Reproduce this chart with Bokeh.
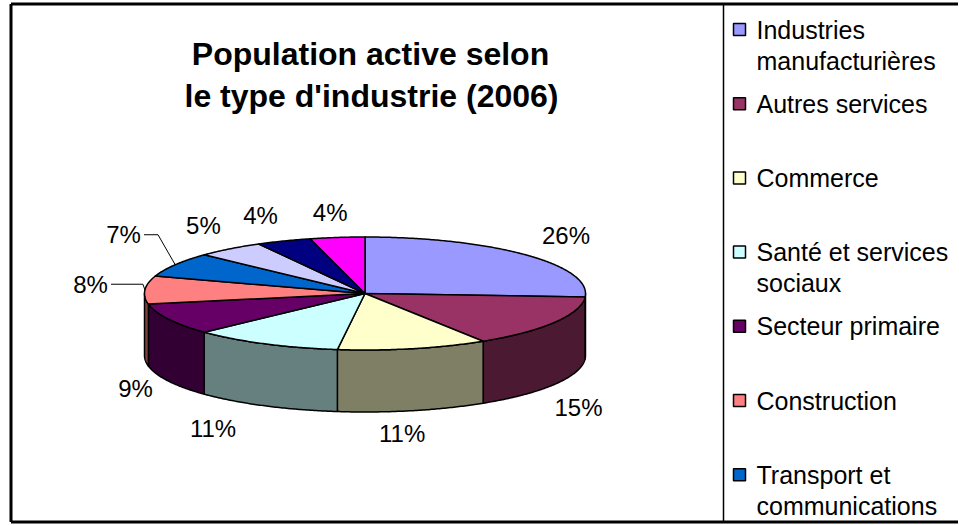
import numpy as np
from bokeh.plotting import figure
from bokeh.models import Range1d
from bokeh.embed import file_html
from bokeh.resources import INLINE
from bokeh.core.properties import value

# ---------------- data ----------------
categories = [
    "Industries manufacturières",
    "Autres services",
    "Commerce",
    "Santé et services sociaux",
    "Secteur primaire",
    "Construction",
    "Transport et communications",
    "Catégorie 8",   # not visible in the (cut-off) legend
    "Catégorie 9",   # not visible in the (cut-off) legend
    "Catégorie 10",  # not visible in the (cut-off) legend
]
percentages = [26, 15, 11, 11, 9, 8, 7, 5, 4, 4]
title_lines = ["Population active selon", "le type d'industrie (2006)"]
legend_lines = [
    ["Industries", "manufacturières"],
    ["Autres services"],
    ["Commerce"],
    ["Santé et services", "sociaux"],
    ["Secteur primaire"],
    ["Construction"],
    ["Transport et", "communications"],
]

# ---------------- styles / layout ----------------
top_colors = ["#9999FF", "#993366", "#FFFFCC", "#CCFFFF", "#660066",
              "#FF8080", "#0066CC", "#CCCCFF", "#000080", "#FF00FF"]


def darken(hex_color, f=0.5):
    h = hex_color.lstrip("#")
    r, g, b_ = (int(h[i:i + 2], 16) for i in (0, 2, 4))
    return "#%02X%02X%02X" % (int(r * f), int(g * f), int(b_ * f))


side_colors = [darken(c) for c in top_colors]

FONT = value("Liberation Sans")
W, H = 958, 524

cx, cy = 364.5, 293.0      # pie centre (px)
a, b = 220.5, 56.5         # ellipse semi-axes
depth = 62.0               # thickness of the 3D pie
ka, kb = 262.0, 84.0       # label radial factors
label_nudge = [(10, 0), (-12, 9), (-20, -4), (-33, -2), (4, -5),
               (-13, -4), (-16, -16), (-1, -2), (-8, 0), (-2, 2)]
leader = [False, False, False, False, False, True, True, False, False, False]

p = figure(width=W, height=H, x_range=Range1d(0, W), y_range=Range1d(H, 0),
           output_backend="svg", toolbar_location=None, min_border=0)
p.axis.visible = False
p.grid.visible = False
p.outline_line_color = None
p.background_fill_color = "white"
p.border_fill_color = "white"


def ell(t_deg, dy=0.0):
    t = np.radians(t_deg)
    return cx + a * np.sin(t), cy - b * np.cos(t) + dy


vals = np.array(percentages, dtype=float)
cum = np.concatenate([[0.0], np.cumsum(vals) / vals.sum() * 360.0])

# side walls (front half only: 90..270 deg clockwise from top)
side_xs, side_ys, side_c = [], [], []
for i in range(len(vals)):
    lo, hi = max(cum[i], 90.0), min(cum[i + 1], 270.0)
    if hi > lo:
        t = np.linspace(lo, hi, max(3, int((hi - lo) * 2)))
        x, y = ell(t)
        xb, yb = ell(t[::-1], depth)
        side_xs.append(list(x) + list(xb))
        side_ys.append(list(y) + list(yb))
        side_c.append(side_colors[i])
p.patches(side_xs, side_ys, fill_color=side_c, line_color="black",
          line_width=1.5, line_join="round")

# top faces
top_xs, top_ys = [], []
for i in range(len(vals)):
    t = np.linspace(cum[i], cum[i + 1], max(3, int((cum[i + 1] - cum[i]) * 2)))
    x, y = ell(t)
    top_xs.append([cx] + list(x))
    top_ys.append([cy] + list(y))
p.patches(top_xs, top_ys, fill_color=top_colors, line_color="black",
          line_width=1.5, line_join="round")

# data labels
LFS = 24
lx, ly, lt = [], [], []
for i, v in enumerate(percentages):
    mid = np.radians((cum[i] + cum[i + 1]) / 2)
    x = cx + ka * np.sin(mid) + label_nudge[i][0]
    y = cy - kb * np.cos(mid) + (depth if np.cos(mid) < 0 else 0) + label_nudge[i][1]
    lx.append(x); ly.append(y); lt.append(f"{v}%")
    if leader[i]:
        ex, ey = ell(np.degrees(mid))
        half_w = 0.73 * LFS
        sx = x + half_w + 3
        if abs(ey - y) < 10:
            kx = ex - 2
        else:
            kx = sx + 14
        p.line([sx, kx, ex], [y, y, ey], line_color="black", line_width=1)
p.text(lx, ly, text=lt, text_font=FONT, text_font_size=f"{LFS}px",
       text_align="center", text_baseline="middle", text_color="black")

# title
p.text([370, 371], [53, 95], text=title_lines, text_font=FONT,
       text_font_size="32px", text_font_style="bold", text_align="center",
       text_baseline="middle", text_color="black")

# legend (manual, as in the reference: fixed slots, wrapped lines)
slot0, slot_step, line_step = 29.0, 74.2, 31.0
LGFS = 25
sq_x, sq_y, sq_c = [], [], []
tx, ty, tt = [], [], []
for i, lines in enumerate(legend_lines):
    yc = slot0 + i * slot_step
    sq_x.append(739); sq_y.append(yc); sq_c.append(top_colors[i])
    for j, s in enumerate(lines):
        tx.append(756); ty.append(yc + j * line_step); tt.append(s)
p.rect(sq_x, sq_y, width=12, height=12, fill_color=sq_c, line_color="black",
       line_width=1.5)
p.text(tx, ty, text=tt, text_font=FONT, text_font_size=f"{LGFS}px",
       text_align="left", text_baseline="middle", text_color="black")

# frame lines (right edge is cut off in the reference)
p.line([10.5, 10.5], [3.5, 521.5], line_color="black", line_width=3)
p.line([10.5, W], [3.5, 3.5], line_color="black", line_width=3)
p.line([10.5, W], [521.5, 521.5], line_color="black", line_width=3)
p.line([723, 723], [3.5, 521.5], line_color="black", line_width=1.5)

open("out.html", "w").write(file_html(p, INLINE))
